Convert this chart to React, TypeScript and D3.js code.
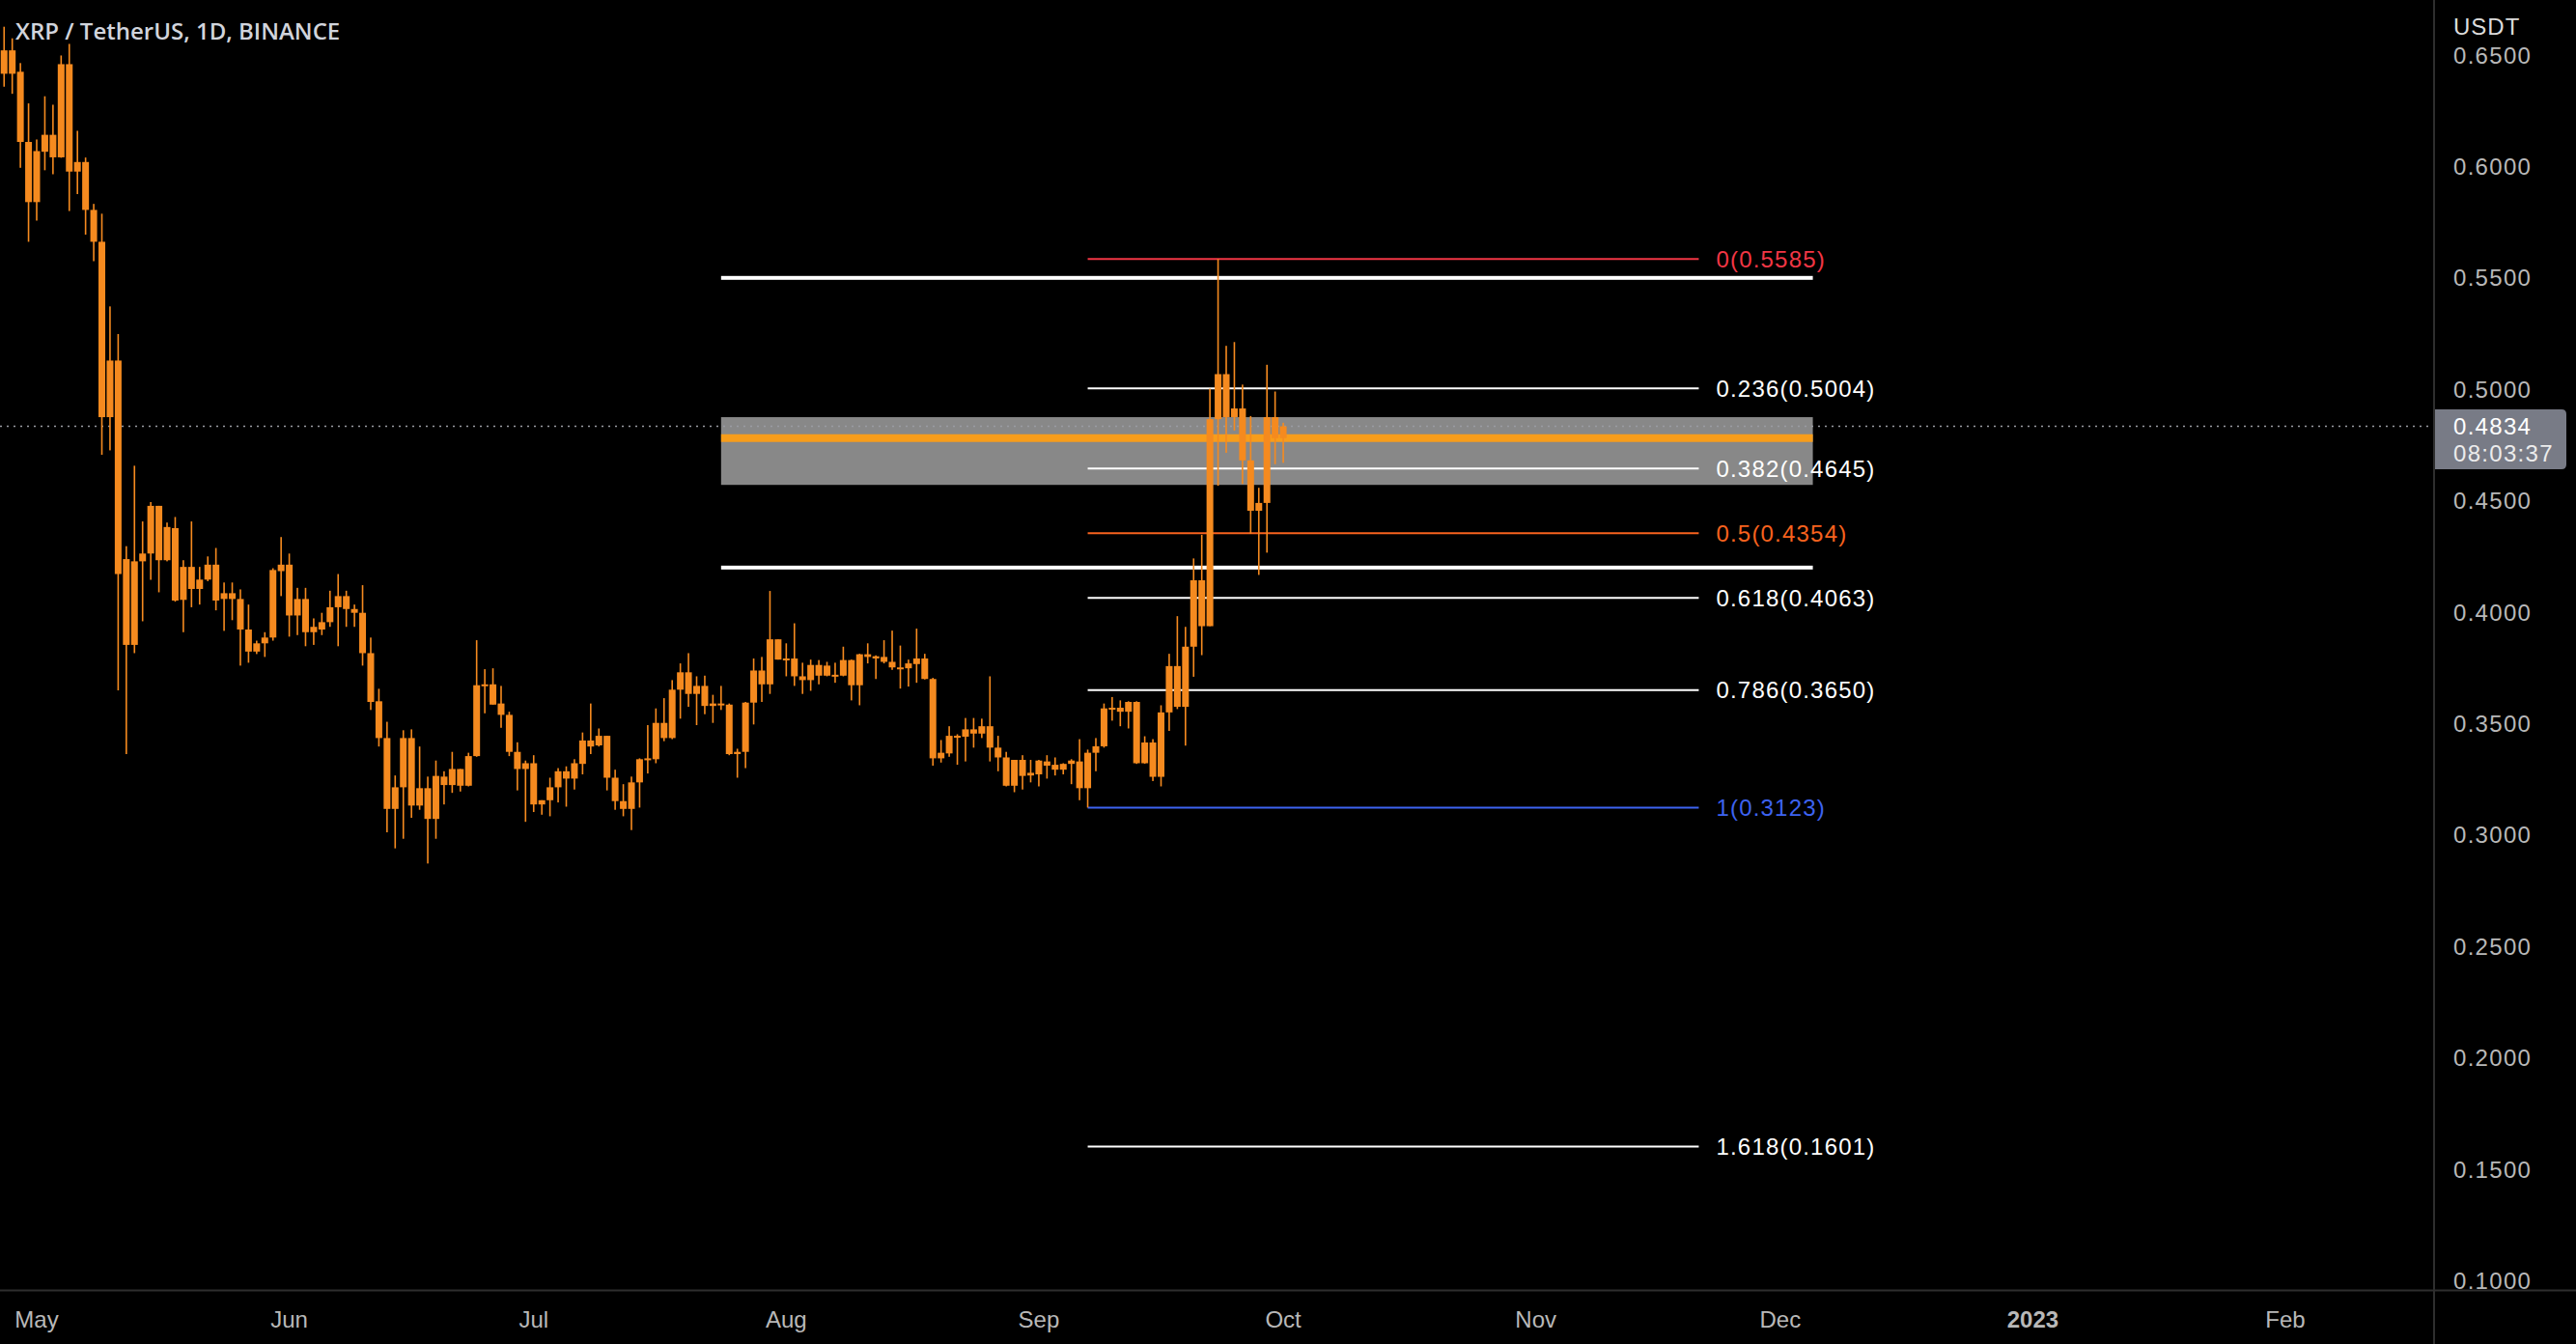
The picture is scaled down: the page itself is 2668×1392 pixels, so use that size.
import React from 'react';
import * as d3 from 'd3';

// daily candles, 2022-04-27 .. 2022-10-01
const firstDay = new Date(Date.UTC(2022, 3, 27));

const opens = [
  // Apr 27-30
  0.6416, 0.6521, 0.6425, 0.6110,
  // May
  0.5840, 0.6066, 0.6142, 0.6041, 0.6459, 0.5977, 0.6020, 0.5805, 0.5662, 0.4875,
  0.5129, 0.4238, 0.3853, 0.4228, 0.4263, 0.4477, 0.4233, 0.4377, 0.4055, 0.4203,
  0.4104, 0.4146, 0.4213, 0.4059, 0.4085, 0.4059, 0.3922, 0.3823, 0.3860, 0.3886, 0.4184,
  // Jun
  0.4213, 0.3985, 0.4059, 0.3910, 0.3922, 0.3955, 0.4022, 0.4072, 0.4014, 0.3997,
  0.3816, 0.3600, 0.3435, 0.3117, 0.3214, 0.3435, 0.3132, 0.3210, 0.3072, 0.3262,
  0.3224, 0.3296, 0.3221, 0.3354, 0.3672, 0.3676, 0.3590, 0.3539, 0.3373, 0.3296,
  // Jul
  0.3322, 0.3137, 0.3156, 0.3214, 0.3286, 0.3253, 0.3319, 0.3424, 0.3402, 0.3445,
  0.3257, 0.3152, 0.3117, 0.3236, 0.3337, 0.3340, 0.3503, 0.3435, 0.3652, 0.3730,
  0.3633, 0.3669, 0.3579, 0.3590, 0.3585, 0.3363, 0.3373, 0.3594, 0.3738, 0.3676, 0.3878,
  // Aug
  0.3787, 0.3792, 0.3712, 0.3695, 0.3763, 0.3715, 0.3719, 0.3715, 0.3785, 0.3672,
  0.3811, 0.3792, 0.3799, 0.3777, 0.3752, 0.3748, 0.3767, 0.3792, 0.3700, 0.3344,
  0.3366, 0.3445, 0.3441, 0.3474, 0.3455, 0.3488, 0.3392, 0.3348, 0.3221, 0.3337, 0.3267,
  // Sep
  0.3272, 0.3330, 0.3315, 0.3293, 0.3319, 0.3330, 0.3210, 0.3369, 0.3398, 0.3568,
  0.3571, 0.3553, 0.3597, 0.3322, 0.3415, 0.3261, 0.3550, 0.3758, 0.3575, 0.3845,
  0.4143, 0.3937, 0.4866, 0.5068, 0.4875, 0.4914, 0.4681, 0.4455, 0.4490, 0.4875,
  // Oct 1
  0.4781,
];

const highs = [
  0.6627, 0.6575, 0.6464, 0.6283,
  0.6121, 0.6315, 0.6277, 0.6498, 0.6550, 0.6160, 0.6040, 0.5832, 0.5788, 0.5372,
  0.5248, 0.4296, 0.4657, 0.4407, 0.4494, 0.4477, 0.4402, 0.4427, 0.4233, 0.4407,
  0.4203, 0.4250, 0.4288, 0.4133, 0.4133, 0.4102, 0.4034, 0.3872, 0.3910, 0.4197, 0.4337,
  0.4263, 0.4109, 0.4109, 0.3972, 0.3997, 0.4096, 0.4171, 0.4096, 0.4034, 0.4121,
  0.3886, 0.3656, 0.3508, 0.3267, 0.3470, 0.3474, 0.3397, 0.3262, 0.3334, 0.3286,
  0.3373, 0.3296, 0.3369, 0.3874, 0.3744, 0.3748, 0.3669, 0.3553, 0.3416, 0.3334,
  0.3358, 0.3156, 0.3257, 0.3300, 0.3308, 0.3340, 0.3460, 0.3590, 0.3478, 0.3445,
  0.3293, 0.3228, 0.3262, 0.3344, 0.3493, 0.3568, 0.3614, 0.3695, 0.3770, 0.3816,
  0.3712, 0.3715, 0.3629, 0.3669, 0.3590, 0.3387, 0.3597, 0.3792, 0.3799, 0.4095, 0.3878,
  0.3860, 0.3950, 0.3773, 0.3787, 0.3785, 0.3777, 0.3773, 0.3845, 0.3787, 0.3813,
  0.3860, 0.3806, 0.3874, 0.3917, 0.3850, 0.3787, 0.3926, 0.3813, 0.3705, 0.3426,
  0.3488, 0.3452, 0.3525, 0.3525, 0.3522, 0.3712, 0.3445, 0.3373, 0.3337, 0.3358, 0.3337,
  0.3337, 0.3358, 0.3348, 0.3322, 0.3340, 0.3430, 0.3383, 0.3435, 0.3590, 0.3619,
  0.3604, 0.3600, 0.3600, 0.3443, 0.3430, 0.3582, 0.3813, 0.3982, 0.3934, 0.4241,
  0.4347, 0.5003, 0.5585, 0.5195, 0.5212, 0.5021, 0.4880, 0.4558, 0.5110, 0.4990,
  0.4850,
];

const lows = [
  0.6358, 0.6326, 0.5994, 0.5662,
  0.5757, 0.5983, 0.5965, 0.6039, 0.5800, 0.5876, 0.5694, 0.5575, 0.4706, 0.4726,
  0.3649, 0.3363, 0.3816, 0.3959, 0.4145, 0.4089, 0.4228, 0.4047, 0.3910, 0.4022,
  0.4034, 0.4139, 0.4008, 0.3916, 0.3964, 0.3760, 0.3773, 0.3812, 0.3799, 0.3872, 0.4072,
  0.3890, 0.3897, 0.3847, 0.3853, 0.3897, 0.3934, 0.3847, 0.3934, 0.3934, 0.3760,
  0.3561, 0.3397, 0.3012, 0.2940, 0.2983, 0.3077, 0.3113, 0.2872, 0.2983, 0.3137,
  0.3189, 0.3195, 0.3218, 0.3351, 0.3546, 0.3585, 0.3481, 0.3354, 0.3200, 0.3059,
  0.3103, 0.3091, 0.3084, 0.3146, 0.3127, 0.3204, 0.3272, 0.3363, 0.3397, 0.3200,
  0.3113, 0.3084, 0.3022, 0.3123, 0.3276, 0.3322, 0.3421, 0.3430, 0.3522, 0.3575,
  0.3493, 0.3542, 0.3503, 0.3561, 0.3358, 0.3257, 0.3300, 0.3496, 0.3597, 0.3633, 0.3787,
  0.3712, 0.3669, 0.3633, 0.3647, 0.3676, 0.3712, 0.3683, 0.3712, 0.3604, 0.3582,
  0.3770, 0.3700, 0.3770, 0.3741, 0.3657, 0.3666, 0.3683, 0.3698, 0.3311, 0.3325,
  0.3351, 0.3315, 0.3330, 0.3392, 0.3435, 0.3330, 0.3286, 0.3218, 0.3192, 0.3204, 0.3236,
  0.3218, 0.3253, 0.3267, 0.3272, 0.3228, 0.3156, 0.3123, 0.3286, 0.3392, 0.3513,
  0.3488, 0.3478, 0.3319, 0.3320, 0.3242, 0.3218, 0.3467, 0.3565, 0.3401, 0.3710,
  0.3807, 0.3937, 0.4567, 0.4715, 0.4815, 0.4575, 0.4352, 0.4167, 0.4267, 0.4664,
  0.4670,
];

const closes = [
  0.6521, 0.6416, 0.6110, 0.5840,
  0.6069, 0.6142, 0.6041, 0.6459, 0.5977, 0.6020, 0.5805, 0.5662, 0.4875, 0.5129,
  0.4171, 0.3853, 0.4228, 0.4263, 0.4477, 0.4233, 0.4382, 0.4052, 0.4203, 0.4104,
  0.4146, 0.4213, 0.4052, 0.4085, 0.4059, 0.3922, 0.3823, 0.3860, 0.3886, 0.4189, 0.4213,
  0.3985, 0.4059, 0.3910, 0.3934, 0.3955, 0.4022, 0.4072, 0.4014, 0.3997, 0.3816,
  0.3597, 0.3435, 0.3117, 0.3214, 0.3435, 0.3132, 0.3210, 0.3072, 0.3265, 0.3224,
  0.3296, 0.3221, 0.3354, 0.3672, 0.3676, 0.3585, 0.3539, 0.3373, 0.3296, 0.3322,
  0.3137, 0.3156, 0.3214, 0.3286, 0.3253, 0.3322, 0.3424, 0.3397, 0.3445, 0.3257,
  0.3152, 0.3117, 0.3236, 0.3340, 0.3344, 0.3503, 0.3435, 0.3652, 0.3730, 0.3633,
  0.3669, 0.3579, 0.3590, 0.3582, 0.3363, 0.3373, 0.3594, 0.3738, 0.3676, 0.3878, 0.3787,
  0.3792, 0.3712, 0.3695, 0.3763, 0.3715, 0.3760, 0.3715, 0.3785, 0.3672, 0.3811,
  0.3799, 0.3802, 0.3777, 0.3752, 0.3748, 0.3770, 0.3792, 0.3700, 0.3344, 0.3369,
  0.3445, 0.3438, 0.3474, 0.3455, 0.3488, 0.3392, 0.3348, 0.3221, 0.3337, 0.3265, 0.3279,
  0.3334, 0.3311, 0.3293, 0.3319, 0.3334, 0.3210, 0.3369, 0.3398, 0.3568, 0.3571,
  0.3553, 0.3597, 0.3322, 0.3415, 0.3261, 0.3550, 0.3758, 0.3575, 0.3845, 0.4143,
  0.3937, 0.4866, 0.5068, 0.4875, 0.4914, 0.4681, 0.4455, 0.4490, 0.4875, 0.4781,
  0.4834,
];

// fib retracement drawn from the Sep 7 low to the Sep 23 high
const fibLow = 0.3123;
const fibHigh = 0.5585;
const fibLevels = [0, 0.236, 0.382, 0.5, 0.618, 0.786, 1, 1.618];
const fibColors = ['#f23645', '#ffffff', '#ffffff', '#f7621e', '#ffffff', '#ffffff', '#3d63f0', '#ffffff'];
const fibStart = new Date(Date.UTC(2022, 8, 7));
const fibEnd = new Date(Date.UTC(2022, 10, 21));

// support / resistance box and levels
const zoneStart = new Date(Date.UTC(2022, 6, 24));
const zoneEnd = new Date(Date.UTC(2022, 11, 5));
const zoneTop = 0.4875;
const zoneBottom = 0.4571;
const zoneMid = 0.4781;
const hLevels = [0.55, 0.42];

const yTicks = [0.1, 0.15, 0.2, 0.25, 0.3, 0.35, 0.4, 0.45, 0.5, 0.55, 0.6, 0.65];
const lastPrice = 0.4834;
const countdown = '08:03:37';

const W = 2668;
const H = 1392;
const PANE_R = 2520;
const PANE_B = 1336;
const ORANGE = '#f58a1f';
const AXIS_FONT = '"Liberation Sans", Arial, sans-serif';

const App: React.FC = () => {
  const x = d3.scaleUtc()
    .domain([new Date(Date.UTC(2022, 4, 1)), new Date(Date.UTC(2023, 1, 1))])
    .range([38, 2367]);
  const y = d3.scaleLinear().domain([0.1, 0.65]).range([1326.4, 57]);

  const days = d3.utcDay.range(firstDay, d3.utcDay.offset(firstDay, opens.length));
  const months = d3.utcMonth.range(new Date(Date.UTC(2022, 4, 1)), new Date(Date.UTC(2023, 1, 2)));
  const bodyW = 7;
  const zx = x(zoneStart);
  const zw = x(zoneEnd) - x(zoneStart);

  return (
    <div style={{ position: 'fixed', left: 0, top: 0, width: W, height: H, background: '#000' }}>
      <svg width={W} height={H} style={{ display: 'block' }}>
        <defs>
          <clipPath id="pane">
            <rect x={0} y={0} width={PANE_R} height={PANE_B} />
          </clipPath>
        </defs>
        <rect width={W} height={H} fill="#000" />

        <g clipPath="url(#pane)">
          {/* zone */}
          <rect x={zx} y={y(zoneTop)} width={zw} height={y(zoneBottom) - y(zoneTop)} fill="#888888" />
          <rect x={zx} y={y(zoneMid) - 4} width={zw} height={8} fill="#f79d1b" />
          {hLevels.map((p) => (
            <rect key={p} x={zx} y={y(p) - 2} width={zw} height={4} fill="#ffffff" />
          ))}

          {/* fib */}
          {fibLevels.map((lv, i) => {
            const price = fibHigh - (fibHigh - fibLow) * lv;
            const py = y(price);
            return (
              <g key={lv}>
                <line x1={x(fibStart)} x2={x(fibEnd)} y1={py} y2={py} stroke={fibColors[i]} strokeWidth={2} />
                <text x={x(fibEnd) + 18} y={py} dy="0.35em" fill={fibColors[i]} fontSize={24}
                  fontFamily={AXIS_FONT} letterSpacing={1.2}>
                  {`${lv}(${price.toFixed(4)})`}
                </text>
              </g>
            );
          })}

          <line x1={0} x2={PANE_R} y1={y(lastPrice)} y2={y(lastPrice)} stroke="#9a9ca3"
            strokeWidth={1.5} strokeDasharray="2 5" />

          {/* candles on top */}
          {days.map((d, i) => {
            const cx = x(d);
            const top = y(Math.max(opens[i], closes[i]));
            const bot = y(Math.min(opens[i], closes[i]));
            return (
              <g key={i}>
                <rect x={cx - 0.8} y={y(highs[i])} width={1.6} height={y(lows[i]) - y(highs[i])} fill={ORANGE} />
                <rect x={cx - bodyW / 2} y={top} width={bodyW} height={Math.max(bot - top, 2)} fill={ORANGE} />
              </g>
            );
          })}
        </g>

        {/* title */}
        <text x={16} y={41} fill="#d1d4dc" fontSize={24} fontWeight={600}
          fontFamily='"Open Sans", sans-serif'>XRP / TetherUS, 1D, BINANCE</text>

        {/* axes frame */}
        <line x1={PANE_R + 1} x2={PANE_R + 1} y1={0} y2={H} stroke="#2e2e2e" strokeWidth={2} />
        <line x1={0} x2={W} y1={PANE_B + 0.5} y2={PANE_B + 0.5} stroke="#2e2e2e" strokeWidth={2} />

        {/* price scale */}
        {yTicks.map((t) => (
          <text key={t} x={2541} y={y(t)} dy="0.36em" fill="#b8b8b8" fontSize={24}
            fontFamily={AXIS_FONT} letterSpacing={1.3}>
            {t.toFixed(4)}
          </text>
        ))}
        <rect x={PANE_R + 2} y={PANE_B + 2} width={W - PANE_R} height={H - PANE_B} fill="#000" />
        <text x={2541} y={27} dy="0.36em" fill="#dcdcdc" fontSize={24} fontWeight={500}
          fontFamily={AXIS_FONT} letterSpacing={1}>USDT</text>

        {/* last price label */}
        <path d={`M${PANE_R + 2} 424 H2653 q5 0 5 5 V481 q0 5 -5 5 H${PANE_R + 2} Z`} fill="#787b86" />
        <text x={2541} y={y(lastPrice)} dy="0.36em" fill="#ffffff" fontSize={24}
          fontFamily={AXIS_FONT} letterSpacing={1.3}>{lastPrice.toFixed(4)}</text>
        <text x={2541} y={469} dy="0.36em" fill="#ececec" fontSize={24}
          fontFamily={AXIS_FONT} letterSpacing={1.3}>{countdown}</text>

        {/* time scale */}
        {months.map((m) => {
          const isYear = m.getUTCMonth() === 0;
          return (
            <text key={m.toISOString()} x={x(m)} y={1366} dy="0.36em" textAnchor="middle"
              fill="#b8b8b8" fontSize={24} fontFamily={AXIS_FONT}
              fontWeight={isYear ? 700 : 400}>
              {isYear ? d3.utcFormat('%Y')(m) : d3.utcFormat('%b')(m)}
            </text>
          );
        })}
      </svg>
    </div>
  );
};

export default App;
